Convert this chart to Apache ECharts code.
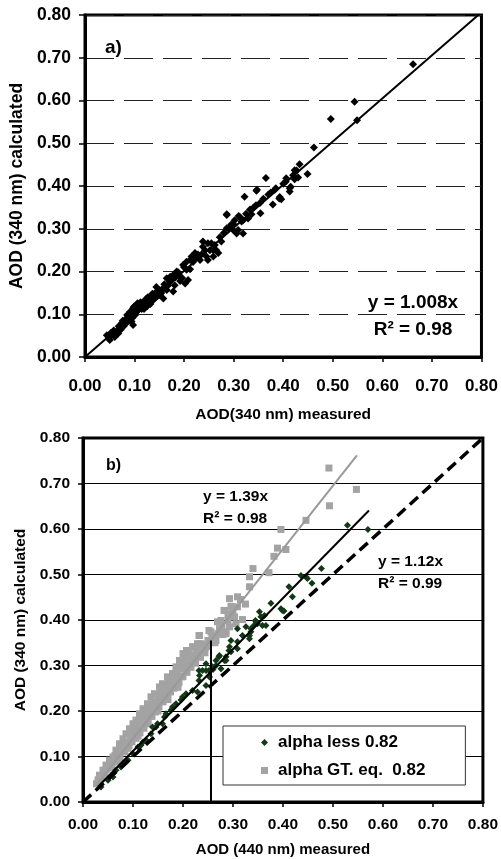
<!DOCTYPE html>
<html>
<head>
<meta charset="utf-8">
<script src="https://cdn.jsdelivr.net/npm/echarts@6/dist/echarts.min.js"></script>
<style>html,body{margin:0;padding:0;background:#fff}#c{width:501px;height:859px}</style>
</head>
<body>
<div id="c"></div>
<script>
// ---------- DATA ----------
const tickLabels = ['0.00','0.10','0.20','0.30','0.40','0.50','0.60','0.70','0.80'];

// Panel a: AOD(340) measured vs calculated
const panelAPoints = [
[0.044,0.051],[0.050,0.040],[0.060,0.047],[0.067,0.055],[0.074,0.079],[0.081,0.087],[0.087,0.091],[0.094,0.083],
[0.091,0.106],[0.097,0.114],[0.104,0.122],[0.111,0.118],[0.101,0.098],[0.118,0.129],[0.124,0.137],[0.128,0.126],
[0.134,0.141],[0.141,0.149],[0.144,0.164],[0.151,0.145],[0.161,0.161],[0.158,0.137],[0.165,0.184],[0.171,0.176],
[0.178,0.192],[0.185,0.200],[0.181,0.168],[0.202,0.172],[0.208,0.180],[0.198,0.215],[0.205,0.223],[0.215,0.235],
[0.222,0.243],[0.232,0.227],[0.238,0.258],[0.248,0.266],[0.259,0.250],[0.238,0.270],[0.255,0.266],[0.242,0.250],
[0.245,0.235],[0.259,0.235],[0.265,0.250],[0.222,0.235],[0.212,0.227],[0.205,0.204],[0.269,0.243],[0.248,0.227],
[0.286,0.332],[0.299,0.297],[0.306,0.289],[0.319,0.320],[0.286,0.334],[0.302,0.320],[0.312,0.328],[0.316,0.317],
[0.319,0.289],[0.309,0.297],[0.286,0.301],[0.322,0.375],[0.353,0.360],[0.354,0.336],[0.333,0.345],[0.336,0.334],
[0.329,0.324],[0.347,0.391],[0.383,0.391],[0.379,0.357],[0.396,0.369],[0.392,0.371],[0.415,0.398],[0.413,0.387],
[0.423,0.437],[0.406,0.418],[0.423,0.416],[0.433,0.451],[0.449,0.428],[0.365,0.419],[0.346,0.389],[0.427,0.436],
[0.413,0.395],[0.393,0.374],[0.462,0.490],[0.496,0.557],[0.544,0.597],[0.549,0.554],[0.662,0.685],
[0.055,0.058],[0.064,0.060],[0.070,0.068],[0.078,0.072],[0.084,0.080],[0.090,0.094],[0.097,0.075],[0.100,0.108],
[0.107,0.110],[0.114,0.112],[0.120,0.120],[0.125,0.118],[0.131,0.130],[0.138,0.134],[0.147,0.150],[0.155,0.158],
[0.165,0.157],[0.178,0.153],[0.175,0.180],[0.190,0.190],[0.196,0.185],[0.212,0.205],[0.228,0.240],[0.252,0.250],
[0.275,0.270],[0.280,0.290],[0.295,0.310],[0.340,0.350],[0.370,0.380],[0.400,0.405],
[0.048,0.046],[0.052,0.056],[0.058,0.062],[0.062,0.052],[0.068,0.072],[0.072,0.064],[0.076,0.085],[0.080,0.076],
[0.085,0.098],[0.088,0.086],[0.093,0.100],[0.096,0.092],[0.099,0.118],[0.103,0.104],[0.106,0.126],[0.109,0.112],
[0.112,0.128],[0.116,0.120],[0.119,0.112],[0.122,0.130],[0.127,0.140],[0.132,0.124],[0.136,0.148],[0.140,0.136],
[0.146,0.142],[0.150,0.156],[0.154,0.150],[0.160,0.170],[0.168,0.168],[0.172,0.188],[0.182,0.186],[0.188,0.198],
[0.192,0.178],[0.200,0.210],[0.218,0.222],[0.225,0.232],[0.235,0.240],[0.262,0.262],[0.272,0.280],[0.290,0.300],
[0.300,0.310],[0.310,0.330],[0.325,0.335],[0.345,0.355],[0.360,0.370],[0.375,0.385],[0.385,0.395],[0.405,0.410],
[0.420,0.425],[0.430,0.420]
];
const panelASlope = 1.008;
const panelAFitX = [0, 0.8];

// Panel b: AOD(440) measured vs AOD(340) calculated
const panelBLowAlpha = [
[0.529,0.608],[0.570,0.599],[0.477,0.513],[0.436,0.498],[0.446,0.495],[0.449,0.491],[0.458,0.481],[0.412,0.473],
[0.419,0.451],[0.376,0.437],[0.396,0.425],[0.399,0.421],[0.402,0.420],[0.353,0.418],[0.363,0.410],[0.346,0.396],
[0.342,0.388],[0.349,0.392],[0.359,0.388],[0.336,0.374],[0.333,0.366],[0.356,0.407],[0.345,0.399],[0.366,0.388],
[0.336,0.381],[0.326,0.385],[0.309,0.381],[0.319,0.366],[0.333,0.359],[0.309,0.352],[0.296,0.355],[0.293,0.341],
[0.309,0.337],[0.296,0.330],[0.286,0.319],[0.273,0.322],[0.283,0.311],[0.266,0.300],[0.276,0.293],[0.260,0.291],
[0.246,0.289],[0.233,0.278],[0.253,0.275],[0.292,0.333],[0.286,0.311],[0.272,0.319],[0.266,0.311],[0.259,0.297],
[0.252,0.289],[0.246,0.304],[0.239,0.289],[0.232,0.289],[0.232,0.267],[0.246,0.256],[0.229,0.242],[0.219,0.245],
[0.206,0.238],[0.199,0.231],[0.196,0.224],[0.186,0.216],[0.179,0.209],[0.176,0.202],[0.166,0.194],[0.163,0.187],
[0.159,0.172],[0.149,0.172],[0.146,0.165],[0.139,0.165],[0.136,0.150],[0.126,0.136],[0.120,0.132],[0.116,0.125],
[0.110,0.121],[0.100,0.106],[0.090,0.092],[0.083,0.084],[0.076,0.077],[0.066,0.070],[0.060,0.055],[0.050,0.048],
[0.036,0.033]
];
const panelBHighAlpha = [
[0.492,0.734],[0.547,0.687],[0.493,0.651],[0.446,0.619],[0.396,0.599],[0.389,0.558],[0.406,0.555],[0.382,0.540],
[0.372,0.504],[0.340,0.513],[0.333,0.495],[0.333,0.473],[0.309,0.451],[0.293,0.447],[0.325,0.435],[0.309,0.429],
[0.283,0.421],[0.290,0.414],[0.303,0.407],[0.319,0.401],[0.290,0.399],[0.276,0.399],[0.306,0.392],[0.293,0.385],
[0.273,0.381],[0.286,0.370],[0.256,0.374],[0.233,0.366],[0.266,0.355],[0.250,0.355],[0.236,0.348],[0.220,0.341],
[0.207,0.333],[0.226,0.326],[0.200,0.326],[0.213,0.319],[0.193,0.311],[0.207,0.297],[0.180,0.282],[0.282,0.421],
[0.269,0.396],[0.286,0.374],[0.252,0.377],[0.232,0.366],[0.256,0.355],[0.229,0.348],[0.219,0.341],[0.212,0.326],
[0.203,0.319],[0.196,0.304],[0.186,0.297],[0.179,0.282],[0.169,0.275],[0.159,0.260],[0.153,0.253],[0.143,0.238],
[0.136,0.231],[0.129,0.216],[0.120,0.205],[0.113,0.194],[0.106,0.180],[0.100,0.172],[0.093,0.161],[0.086,0.150],
[0.080,0.139],[0.073,0.128],[0.066,0.114],[0.060,0.099],[0.053,0.092],[0.046,0.081],[0.040,0.070],[0.033,0.059],
[0.030,0.048],[0.027,0.040],[0.035,0.052],[0.042,0.064],[0.048,0.072],[0.055,0.083],[0.062,0.095],[0.068,0.100],
[0.075,0.112],[0.082,0.122],[0.088,0.130],[0.095,0.140],[0.102,0.148],[0.108,0.158],[0.115,0.168],[0.122,0.176],
[0.128,0.188],[0.134,0.195],[0.140,0.205],[0.147,0.212],[0.155,0.222],[0.162,0.230],[0.170,0.240],[0.176,0.250],
[0.184,0.262],[0.190,0.268],[0.198,0.275],[0.205,0.290],[0.215,0.300],[0.222,0.310],[0.238,0.330],[0.245,0.340],
[0.262,0.365],[0.070,0.090],[0.090,0.118],[0.110,0.145],[0.130,0.172],[0.150,0.200],[0.170,0.225],[0.190,0.252],
[0.032,0.050],[0.038,0.058],[0.044,0.062],[0.050,0.078],[0.057,0.088],[0.058,0.076],[0.064,0.102],[0.066,0.088],
[0.072,0.108],[0.074,0.098],[0.078,0.120],[0.084,0.110],[0.086,0.130],[0.092,0.124],[0.094,0.146],[0.098,0.132],
[0.104,0.160],[0.106,0.140],[0.112,0.170],[0.114,0.152],[0.118,0.182],[0.122,0.162],[0.126,0.196],[0.130,0.180],
[0.133,0.206],[0.138,0.188],[0.142,0.220],[0.145,0.198],[0.150,0.228],[0.152,0.210],[0.157,0.240],[0.160,0.220],
[0.163,0.250],[0.168,0.232],[0.172,0.262],[0.175,0.242],[0.180,0.270],[0.182,0.250],[0.188,0.282],[0.192,0.262],
[0.196,0.292],[0.200,0.276],[0.204,0.305],[0.208,0.285],[0.212,0.312],[0.216,0.296],[0.222,0.322],[0.225,0.305],
[0.230,0.335],[0.235,0.318],[0.240,0.345],[0.244,0.328],[0.250,0.342],[0.258,0.360],[0.264,0.350],[0.270,0.370],
[0.278,0.385],[0.280,0.368],[0.300,0.420],[0.315,0.445],[0.296,0.430]
];
const panelBLowSlope = 1.12, panelBLowFitX = [0.03, 0.572];
const panelBHighSlope = 1.39, panelBHighFitX = [0.027, 0.548];
const panelBOneToOneX = [0, 0.8];
const panelBCutoffLine = [[0.256, 0], [0.256, 0.355]];

// ---------- CHART ----------
const FONT = '"Liberation Sans", Arial, Helvetica, sans-serif';
const chart = echarts.init(document.getElementById('c'), null, {renderer: 'canvas'});
const fmt = v => tickLabels[Math.round(v * 10)] || '';
const fitLine = (slope, xs) => xs.map(x => [x, slope * x]);

function axisCommon(fs, margin, tickLen) {
  return {
    type: 'value', min: 0, max: 0.8, interval: 0.1,
    axisLine: {show: true, onZero: false, lineStyle: {color: '#000', width: 3}},
    axisTick: {show: true, inside: false, length: tickLen, lineStyle: {color: '#000', width: 1.5}},
    axisLabel: {formatter: fmt, color: '#000', fontFamily: FONT, fontWeight: 'bold', fontSize: fs, margin: margin},
    nameLocation: 'middle',
    nameTextStyle: {color: '#000', fontFamily: FONT, fontWeight: 'bold'}
  };
}

const option = {
  animation: false,
  backgroundColor: '#fff',
  grid: [
    {left: 85, top: 15, width: 397, height: 342, show: true, borderColor: '#000', borderWidth: 3, backgroundColor: 'transparent'},
    {left: 83, top: 438, width: 402, height: 364, show: true, borderColor: '#000', borderWidth: 3, backgroundColor: 'transparent'}
  ],
  xAxis: [
    Object.assign(axisCommon(17, 21, 5), {gridIndex: 0, name: 'AOD(340 nm) measured', nameGap: 50,
      nameTextStyle: {color: '#000', fontFamily: FONT, fontWeight: 'bold', fontSize: 15.5}, splitLine: {show: false}}),
    Object.assign(axisCommon(15.5, 15, 5), {gridIndex: 1, name: 'AOD (440 nm) measured', nameGap: 40,
      nameTextStyle: {color: '#000', fontFamily: FONT, fontWeight: 'bold', fontSize: 15}, splitLine: {show: false}})
  ],
  yAxis: [
    Object.assign(axisCommon(17.5, 14, 6), {gridIndex: 0, name: 'AOD (340 nm) calculated', nameGap: 58,
      nameTextStyle: {color: '#000', fontFamily: FONT, fontWeight: 'bold', fontSize: 17.5},
      splitLine: {show: true, lineStyle: {color: '#222', width: 1, type: [29, 10]}}}),
    Object.assign(axisCommon(15.5, 13, 5), {gridIndex: 1, name: 'AOD (340 nm) calculated', nameGap: 50,
      nameTextStyle: {color: '#000', fontFamily: FONT, fontWeight: 'bold', fontSize: 15.5},
      splitLine: {show: true, lineStyle: {color: '#000', width: 1}}})
  ],
  legend: {
    data: ['alpha less 0.82', 'alpha GT. eq.  0.82'],
    orient: 'vertical', left: 223, top: 726,
    padding: [8, 40, 6, 38], itemGap: 11, itemWidth: 7, itemHeight: 7,
    backgroundColor: '#fff', borderColor: '#333', borderWidth: 1,
    textStyle: {color: '#000', fontFamily: FONT, fontWeight: 'bold', fontSize: 17, padding: [0, 0, 0, 5]}
  },
  series: [
    {type: 'scatter', xAxisIndex: 0, yAxisIndex: 0, symbol: 'diamond', symbolSize: 8,
      itemStyle: {color: '#000', opacity: 1}, data: panelAPoints, z: 3},
    {type: 'line', xAxisIndex: 0, yAxisIndex: 0, data: fitLine(panelASlope, panelAFitX), showSymbol: false, symbol: 'none',
      lineStyle: {color: '#000', width: 2}, clip: true, z: 4},
    {name: 'alpha GT. eq.  0.82', type: 'scatter', xAxisIndex: 1, yAxisIndex: 1, symbol: 'rect', symbolSize: 7,
      itemStyle: {color: '#a3a3a3', opacity: 1}, data: panelBHighAlpha, z: 2},
    {name: 'alpha less 0.82', type: 'scatter', xAxisIndex: 1, yAxisIndex: 1, symbol: 'diamond', symbolSize: 7,
      itemStyle: {color: '#0f3a12', opacity: 1}, data: panelBLowAlpha, z: 3},
    {type: 'line', xAxisIndex: 1, yAxisIndex: 1, data: fitLine(panelBHighSlope, panelBHighFitX), symbol: 'none',
      lineStyle: {color: '#999', width: 2}, z: 4},
    {type: 'line', xAxisIndex: 1, yAxisIndex: 1, data: fitLine(panelBLowSlope, panelBLowFitX), symbol: 'none',
      lineStyle: {color: '#000', width: 2}, z: 4},
    {type: 'line', xAxisIndex: 1, yAxisIndex: 1, data: fitLine(1, panelBOneToOneX), symbol: 'none',
      lineStyle: {color: '#000', width: 3.5, type: [11, 6]}, z: 5},
    {type: 'line', xAxisIndex: 1, yAxisIndex: 1, data: panelBCutoffLine, symbol: 'none',
      lineStyle: {color: '#000', width: 2}, z: 5}
  ],
  graphic: [
    {type: 'text', left: 105, top: 38, z: 10, style: {text: 'a)', font: 'bold 19px ' + FONT, fill: '#000'}},
    {type: 'text', x: 413, y: 303, z: 10, style: {text: 'y = 1.008x', font: 'bold 19px ' + FONT, fill: '#000', align: 'center', verticalAlign: 'middle'}},
    {type: 'text', x: 413, y: 330, z: 10, style: {text: 'R² = 0.98', font: 'bold 19px ' + FONT, fill: '#000', align: 'center', verticalAlign: 'middle'}},
    {type: 'text', left: 106, top: 458, z: 10, style: {text: 'b)', font: 'bold 16px ' + FONT, fill: '#000'}},
    {type: 'text', x: 203, y: 497, z: 10, style: {text: 'y = 1.39x', font: 'bold 15.5px ' + FONT, fill: '#000', align: 'left', verticalAlign: 'middle'}},
    {type: 'text', x: 203, y: 519, z: 10, style: {text: 'R² = 0.98', font: 'bold 15.5px ' + FONT, fill: '#000', align: 'left', verticalAlign: 'middle'}},
    {type: 'text', x: 378, y: 562, z: 10, style: {text: 'y = 1.12x', font: 'bold 15.5px ' + FONT, fill: '#000', align: 'left', verticalAlign: 'middle'}},
    {type: 'text', x: 378, y: 584, z: 10, style: {text: 'R² = 0.99', font: 'bold 15.5px ' + FONT, fill: '#000', align: 'left', verticalAlign: 'middle'}}
  ]
};
chart.setOption(option);
</script>
</body>
</html>
